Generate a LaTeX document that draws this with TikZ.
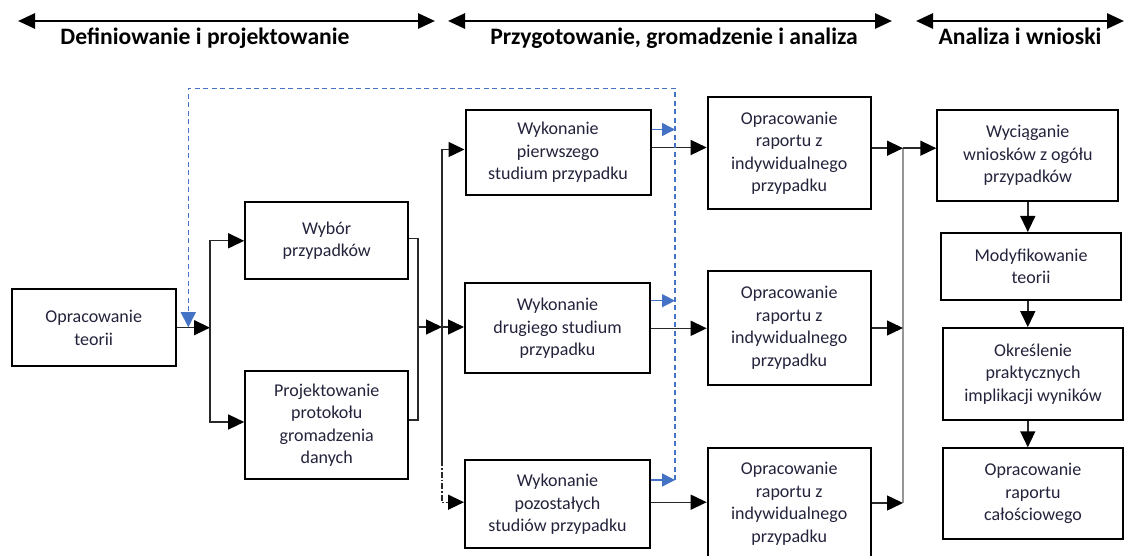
\documentclass[tikz,border=0pt]{standalone}
\usepackage{fontspec}
\setmainfont{Carlito}
\usetikzlibrary{arrows.meta,calc}
\definecolor{txt}{RGB}{35,35,60}
\definecolor{ln}{RGB}{40,40,40}
\definecolor{lg}{RGB}{150,150,150}
\definecolor{bl}{RGB}{68,114,196}
\tikzset{
  box/.style={draw=black, line width=2pt, fill=white, align=center, text=txt,
    font=\fontsize{18}{22.5}\selectfont, inner sep=0pt},
  conn/.style={draw=ln, line width=1.4pt},
  arr/.style={-{Triangle[length=16pt,width=15pt,color=black]}},
  lgline/.style={draw=lg, line width=1.4pt},
  blarr/.style={draw=bl, line width=1.5pt, -{Triangle[length=13pt,width=13pt]}},
  dsh/.style={draw=bl, line width=1.2pt, dash pattern=on 5pt off 3.5pt,
    -{Triangle[length=15pt,width=15pt]}},
  harr/.style={draw=black, line width=2.8pt,
    {Triangle[length=17pt,width=15pt]}-{Triangle[length=17pt,width=15pt]}},
  hlab/.style={font=\fontsize{23.6}{27}\selectfont\bfseries, text=black, anchor=base, inner sep=0pt}
}
\begin{document}
\begin{tikzpicture}[x=1pt,y=-1pt]
\useasboundingbox (0,0) rectangle (1130,556);
\clip (0,0) rectangle (1130,556);

% header arrows
\coordinate (h1a) at (18,21);  \coordinate (h1b) at (435,21);
\coordinate (h2a) at (448,21); \coordinate (h2b) at (892,21);
\coordinate (h3a) at (916,21); \coordinate (h3b) at (1124,21);
\draw[harr] (h1a) -- (h1b);
\draw[harr] (h2a) -- (h2b);
\draw[harr] (h3a) -- (h3b);
\node[hlab] (l1) at (205,45) {Definiowanie i projektowanie};
\node[hlab] (l2) at (674,45) {Przygotowanie, gromadzenie i analiza};
\node[hlab] (l3) at (1020,45) {Analiza i wnioski};

% boxes
\node[box, minimum width=164pt, minimum height=77pt] (teoria) at (93.7,327.7) {Opracowanie\\teorii};
\node[box, minimum width=163pt, minimum height=77pt] (wybor) at (326.7,240.8) {Wybór\\przypadków};
\node[box, minimum width=163pt, minimum height=108pt] (proj) at (326.7,425) {Projektowanie\\protokołu\\gromadzenia\\danych};
\node[box, minimum width=185pt, minimum height=85pt] (wyk1) at (558,152.5) {Wykonanie\\pierwszego\\studium przypadku};
\node[box, minimum width=185pt, minimum height=90pt] (wyk2) at (557.5,328.3) {Wykonanie\\drugiego studium\\przypadku};
\node[box, minimum width=185pt, minimum height=88pt] (wyk3) at (557.5,504.2) {Wykonanie\\pozostałych\\studiów przypadku};
\node[box, minimum width=163pt, minimum height=111.7pt] (rap1) at (789.2,153.2) {Opracowanie\\raportu z\\indywidualnego\\przypadku};
\node[box, minimum width=163pt, minimum height=114pt] (rap2) at (789.2,328) {Opracowanie\\raportu z\\indywidualnego\\przypadku};
\node[box, minimum width=163pt, minimum height=112pt] (rap3) at (789.2,504) {Opracowanie\\raportu z\\indywidualnego\\przypadku};
\node[box, minimum width=181pt, minimum height=91pt] (wnio) at (1027.8,155.5) {Wyciąganie\\wniosków z ogółu\\przypadków};
\node[box, minimum width=180pt, minimum height=67pt] (mod) at (1031,266.5) {Modyfikowanie\\teorii};
\node[box, minimum width=180pt, minimum height=91.7pt] (okr) at (1033,374) {Określenie\\praktycznych\\implikacji wyników};
\node[box, minimum width=180pt, minimum height=91pt] (calo) at (1033,493.8) {Opracowanie\\raportu\\całościowego};

% left part
\coordinate (j1) at (210,327.7);
\draw[conn,arr] (teoria.east) -- (j1);
\draw[conn,arr] (j1) |- (wybor.west);
\draw[conn,arr] (j1) |- ([yshift=3pt]proj.west);

\coordinate (m) at (418,327);
\draw[conn] ([yshift=2.5pt]wybor.east) -| (m) |- ([yshift=5pt]proj.east);
\coordinate (d) at (442,327);
\draw[conn,arr] (m) -- (d);
\draw[conn,arr] (d) |- ([yshift=3pt]wyk1.west);
\draw[conn,arr] (d) -- (d -| wyk2.west);
\coordinate (dd) at (442,460);
\draw[conn] (d) -- (dd);
\draw[conn,arr,dash pattern=on 6pt off 2pt on 1.5pt off 2pt] (dd) |- ([yshift=2pt]wyk3.west);

% studies -> reports
\draw[conn,arr] ([yshift=5pt]wyk1.east) -- ([yshift=5pt]wyk1.east -| rap1.west);
\draw[conn,arr] (wyk2.east) -- (wyk2.east -| rap2.west);
\draw[conn,arr] ([yshift=2pt]wyk3.east) -- ([yshift=2pt]wyk3.east -| rap3.west);

% reports -> collector
\coordinate (c1) at (903,148.2);
\coordinate (c2) at (903,328);
\coordinate (c3) at (903,503);
\draw[lgline] (c1) -- (c3);
\draw[conn,arr] ([yshift=5pt]rap1.east) -- (c1);
\draw[conn,arr] (rap2.east) -- (c2);
\draw[conn,arr] ([yshift=1pt]rap3.east) -- (c3);
\draw[conn,arr] (c1) -- (c1 -| wnio.west);

% right column
\draw[conn,arr] (wnio.south) -- (wnio.south |- mod.north);
\draw[conn,arr] (mod.south -| wnio.south) -- (okr.north -| wnio.south);
\draw[conn,arr] (okr.south -| wnio.south) -- (calo.north -| wnio.south);

% blue feedback
\coordinate (b1) at (675,129.5);
\coordinate (b2) at (675,300.7);
\coordinate (b3) at (675,480);
\draw[blarr] ([yshift=23pt]wyk1.east) -- (b1);
\draw[blarr] ([yshift=27.6pt]wyk2.east) -- (b2);
\draw[blarr] ([yshift=24.2pt]wyk3.east) -- (b3);
\coordinate (t1) at (675,88.3);
\coordinate (t2) at (188.3,88.3);
\coordinate (bt) at (188.3,327.2);
\draw[dsh] (b3) -- (t1) -- (t2) -- (bt);
\end{tikzpicture}
\end{document}
